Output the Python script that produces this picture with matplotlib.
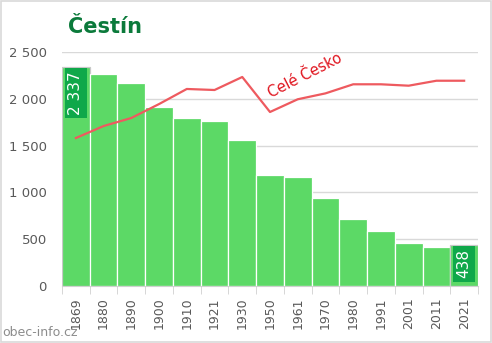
import matplotlib.pyplot as plt
import numpy as np

# obyvatelstvo obce podle sčítání
roky = ["1869", "1880", "1890", "1900", "1910", "1921", "1930", "1950",
        "1961", "1970", "1980", "1991", "2001", "2011", "2021"]
obyvatel = [2337, 2270, 2165, 1915, 1800, 1765, 1560, 1183,
            1161, 943, 712, 591, 456, 413, 438]
# vývoj celého Česka přepočtený na měřítko obce
cesko = [1581, 1709, 1795, 1944, 2105, 2094, 2233, 1859,
         1995, 2058, 2155, 2155, 2140, 2193, 2193]

ZELENA = "#5CD966"
TMAVA = "#0FA84A"
SEDA = "#595959"

fig = plt.figure(figsize=(4.92, 3.43), dpi=100)
ax = fig.add_axes([62 / 492, 1 - 286 / 343, 416 / 492, 234 / 343])

x = np.arange(len(roky))
bars = ax.bar(x, obyvatel, width=1.0, color=ZELENA, edgecolor="white", linewidth=0.9, zorder=2)
# první a poslední sloupec s šedým okrajem
for b in (bars[0], bars[-1]):
    b.set_edgecolor("#C8C8C8")
ax.plot(x, cesko, color="#EE5A5F", linewidth=1.6, zorder=3)

# popisky první a poslední hodnoty
for i in (0, len(x) - 1):
    txt = f"{obyvatel[i]:,}".replace(",", " ")
    ax.text(x[i], obyvatel[i] - 45, txt, rotation=90, ha="center", va="top",
            color="white", fontsize=11, zorder=4,
            bbox=dict(boxstyle="square,pad=0.22", fc=TMAVA, ec="none"))

ax.text(7.1, 1980, "Celé Česko", rotation=27, color="#E0141E", fontsize=10.5,
        ha="left", va="bottom", rotation_mode="anchor", zorder=4)

ax.set_xlim(-0.5, len(x) - 0.5)
ax.set_ylim(0, 2500)
ax.set_yticks(range(0, 2501, 500))
ax.set_yticklabels([f"{v:,}".replace(",", " ") for v in range(0, 2501, 500)])
ax.set_xticks(x)
ax.set_xticklabels(roky, rotation=90)
ax.set_xticks(np.arange(-0.5, len(x)), minor=True)
ax.tick_params(axis="x", which="major", length=0, pad=8, labelsize=9, colors=SEDA)
ax.tick_params(axis="x", which="minor", length=6, color="#D0D0D0")
ax.tick_params(axis="y", length=0, pad=11, labelsize=9.5, colors=SEDA)
ax.yaxis.grid(True, color="#D9D9D9", linewidth=1)
ax.set_axisbelow(True)
for s in ("top", "right", "left"):
    ax.spines[s].set_visible(False)
ax.spines["bottom"].set_color("#D0D0D0")

fig.text(68 / 492, 1 - 27 / 343, "Čestín", fontsize=15, fontweight="bold",
         color="#0B7A3B", va="center", ha="left")
fig.text(2 / 492, 1 - 333 / 343, "obec-info.cz", fontsize=9, color="#8C8C8C",
         va="center", ha="left")

# rámeček kolem obrázku
fig.patches.append(plt.Rectangle((0.002, 0.003), 0.995, 0.994, transform=fig.transFigure,
                                 fill=False, ec="#D9D9D9", lw=1.2))

fig.savefig("out.png", dpi=100)
